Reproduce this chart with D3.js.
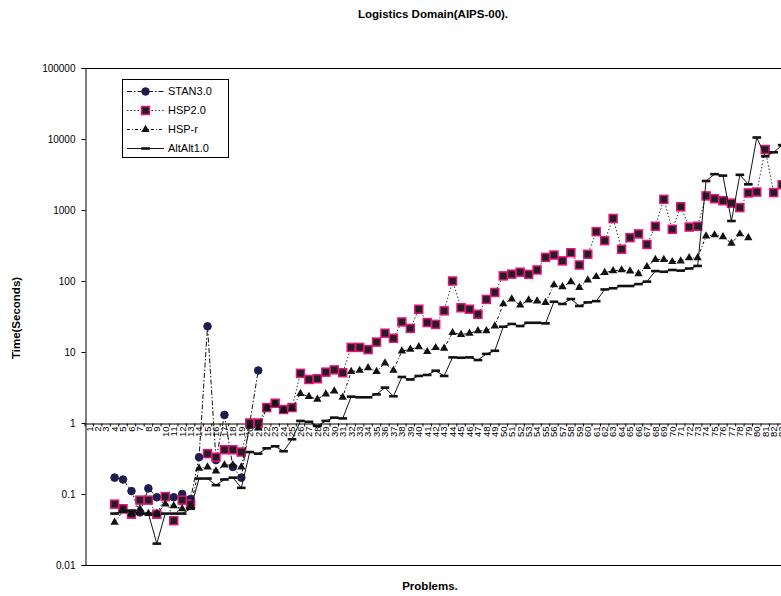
<!DOCTYPE html>
<html>
<head>
<meta charset="utf-8">
<script src="https://cdn.jsdelivr.net/npm/d3@7"></script>
<style>
  body { margin: 0; background: #fff; }
  text { font-family: "Liberation Sans", Arial, sans-serif; fill: #000; }
</style>
</head>
<body>
<svg id="chart" width="781" height="596"></svg>
<script>
// Problem numbers on the category axis
const problems = d3.range(1, 84);

// Run times in seconds, indexed from problem 1 (null = no result)
const stan = [null, null, null, 0.17, 0.16, 0.11, 0.055, 0.12, 0.09, 0.09, 0.09, 0.1, 0.085,
  0.33, 23, 0.3, 1.3, 0.24, 0.17, 1.0, 5.5];

const hsp2 = [null, null, null, 0.072, 0.062, 0.052, 0.082, 0.082, 0.052, 0.092, 0.042, 0.082, 0.072,
  null, 0.37, 0.33, 0.42, 0.42, 0.39, 1.0, 1.0,
  1.65, 1.9, 1.55, 1.65, 5.0, 4.1, 4.2, 5.2, 5.6, 5.1,
  11.6, 11.6, 10.8, 13.8, 18.4, 15.6, 26.5, 21.5, 40, 26,
  24.5, 38, 100, 42, 40, 34, 55, 69, 118, 125,
  133, 124, 143, 215, 232, 192, 250, 168, 238, 495,
  370, 760, 280, 408, 460, 327, 590, 1410, 534, 1110,
  575, 590, 1580, 1440, 1350, 1250, 1080, 1740, 1790, 7100,
  1760, 2270];

const hspr = [null, null, null, 0.04, 0.058, 0.053, 0.062, 0.053, 0.053, 0.072, 0.068, 0.062, 0.066,
  0.23, 0.24, 0.21, 0.256, 0.256, 0.24, 0.9, 0.85,
  1.6, 1.85, 1.5, 1.6, 2.6, 2.35, 2.16, 2.56, 2.82, 2.3,
  5.3, 5.5, 6.0, 5.3, 7.0, 5.5, 10.3, 10.9, 11.8, 10.1,
  11.5, 11.3, 18.7, 17.6, 18.3, 19.9, 19.9, 23.2, 47.5, 55.7,
  45.7, 54, 52, 49.6, 88, 83, 97.5, 81, 103, 115,
  131, 139, 143, 138, 126, 159, 201, 201, 187, 191,
  212, 212, 430, 445, 420, 340, 460, 405];

const altalt = [null, null, null, 0.053, 0.058, 0.058, 0.053, 0.053, 0.02, 0.053, 0.053, 0.053, 0.062,
  0.165, 0.165, 0.133, 0.16, 0.17, 0.122, 0.39, 0.37, 0.44, 0.47,
  0.40, 0.59, 1.07, 1.04, 0.91, 1.07, 1.19, 1.16, 2.35, 2.3,
  2.3, 2.53, 3.15, 2.38, 4.45, 4.1, 4.6, 4.75, 5.45, 4.6,
  8.4, 8.3, 8.4, 7.7, 9.4, 10.4, 22.7, 24.8, 23.2, 25.8,
  25.8, 25.3, 51, 47.5, 55.7, 44.5, 50, 52, 76, 79,
  85, 85, 90.5, 98, 138, 135, 143, 140, 150, 163,
  2560, 3200, 3050, 700, 3130, 2300, 10500, 5700, 6500, 8200];

const seriesNames = ["STAN3.0", "HSP2.0", "HSP-r", "AltAlt1.0"];
const yTickValues = [0.01, 0.1, 1, 10, 100, 1000, 10000, 100000];
const yTickLabels = ["0.01", "0.1", "1", "10", "100", "1000", "10000", "100000"];

const svg = d3.select("#chart");
const plotLeft = 85, plotTop = 68, plotBottom = 565, step = 8.45;

const x = d3.scaleBand().domain(problems).range([plotLeft, plotLeft + problems.length * step]).padding(0);
const cx = p => x(p) + x.bandwidth() / 2;
const y = d3.scaleLog().domain([0.01, 100000]).range([plotBottom, plotTop]);

// Title and axis titles
svg.append("text").attr("x", 433).attr("y", 18).attr("text-anchor", "middle")
  .attr("font-size", 11.5).attr("font-weight", "bold").text("Logistics Domain(AIPS-00).");
svg.append("text").attr("x", 430).attr("y", 590).attr("text-anchor", "middle")
  .attr("font-size", 11.5).attr("font-weight", "bold").text("Problems.");
svg.append("text").attr("transform", "translate(20,318) rotate(-90)").attr("text-anchor", "middle")
  .attr("font-size", 11.5).attr("font-weight", "bold").text("Time(Seconds)");

// Plot area frame (top and bottom edges)
svg.append("line").attr("x1", plotLeft).attr("x2", 781).attr("y1", plotTop + 0.5).attr("y2", plotTop + 0.5)
  .attr("stroke", "#000").attr("stroke-width", 1);
svg.append("line").attr("x1", plotLeft).attr("x2", 781).attr("y1", plotBottom + 0.5).attr("y2", plotBottom + 0.5)
  .attr("stroke", "#000").attr("stroke-width", 1);

// Value axis
const yAxis = d3.axisLeft(y).tickValues(yTickValues)
  .tickFormat((d, i) => yTickLabels[i]).tickSize(4).tickPadding(6);
const gy = svg.append("g").attr("transform", `translate(${plotLeft + 0.5},0)`).call(yAxis);
gy.selectAll("text").attr("font-size", 10).attr("font-family", "'Liberation Sans', Arial, sans-serif");
gy.selectAll("line, path").attr("stroke", "#000");

// Category axis crossing at 1 second
const y1 = Math.round(y(1)) + 0.5;
const xAxis = d3.axisBottom(x).tickSize(0).tickPadding(3);
const gx = svg.append("g").attr("transform", `translate(0,${y1})`).call(xAxis);
gx.select(".domain").attr("stroke", "#000");
gx.selectAll(".tick text")
  .attr("font-size", 9.5).attr("font-family", "'Liberation Sans', Arial, sans-serif")
  .attr("transform", "rotate(-90)")
  .attr("text-anchor", "end").attr("dy", "0.35em").attr("x", -3).attr("y", 0);
// tick marks between categories
gx.selectAll(".between").data(d3.range(problems.length + 1)).join("line")
  .attr("class", "between")
  .attr("x1", i => plotLeft + i * x.bandwidth()).attr("x2", i => plotLeft + i * x.bandwidth())
  .attr("y1", 0).attr("y2", 3).attr("stroke", "#000");

// Series
const marker = {
  circle: g => g.append("circle").attr("r", 3.8).attr("fill", "#1d1d4f").attr("stroke", "#1d1d4f"),
  square: g => g.append("rect").attr("x", -4).attr("y", -4).attr("width", 8).attr("height", 8)
    .attr("fill", "#231f20").attr("stroke", "#e4137f").attr("stroke-width", 1.5),
  triangle: g => g.append("path").attr("d", d3.symbol(d3.symbolTriangle, 30)()).attr("fill", "#111"),
  bar: g => g.append("rect").attr("x", -4.3).attr("y", -1.3).attr("width", 8.6).attr("height", 2.6).attr("fill", "#111")
};

const series = [
  { name: seriesNames[0], values: stan, dash: "5,2,1.5,2", color: "#111", mark: "circle" },
  { name: seriesNames[1], values: hsp2, dash: "1.5,2", color: "#333", mark: "square" },
  { name: seriesNames[2], values: hspr, dash: "3,2,1,2", color: "#111", mark: "triangle" },
  { name: seriesNames[3], values: altalt, dash: null, color: "#111", mark: "bar" }
];

const line = d3.line()
  .defined(d => d.v != null)
  .x(d => cx(d.p)).y(d => y(d.v));

series.forEach(s => {
  const pts = s.values.map((v, i) => ({ p: problems[i], v }));
  svg.append("path").datum(pts)
    .attr("d", line).attr("fill", "none")
    .attr("stroke", s.color).attr("stroke-width", 1)
    .attr("stroke-dasharray", s.dash);
  svg.append("g").selectAll("g").data(pts.filter(d => d.v != null)).join("g")
    .attr("transform", d => `translate(${cx(d.p)},${y(d.v)})`)
    .each(function () { marker[s.mark](d3.select(this)); });
});

// Legend
const lg = svg.append("g");
lg.append("rect").attr("x", 122.5).attr("y", 79.5).attr("width", 106).attr("height", 78)
  .attr("fill", "#fff").attr("stroke", "#000");
series.forEach((s, i) => {
  const ly = 91.5 + i * 19;
  lg.append("line").attr("x1", 127).attr("x2", 164).attr("y1", ly).attr("y2", ly)
    .attr("stroke", s.color).attr("stroke-dasharray", s.dash);
  marker[s.mark](lg.append("g").attr("transform", `translate(145.5,${ly})`));
  lg.append("text").attr("x", 168).attr("y", ly).attr("dy", "0.35em")
    .attr("font-size", 11).text(s.name);
});
</script>
</body>
</html>
